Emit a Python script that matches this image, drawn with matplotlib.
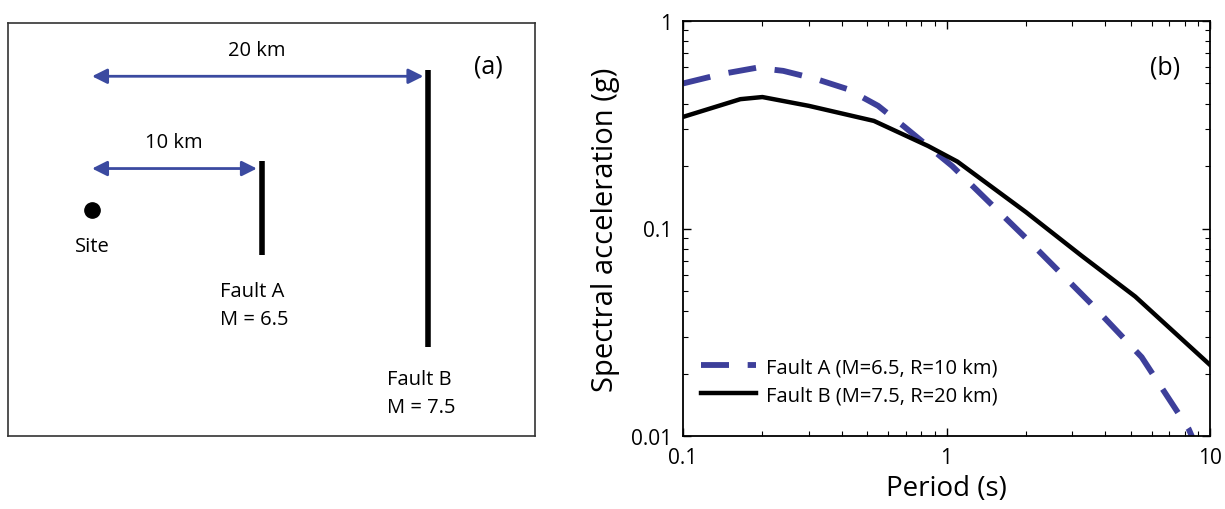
import matplotlib
matplotlib.use("Agg")
import matplotlib.pyplot as plt
from matplotlib.ticker import LogLocator, NullFormatter, FixedLocator, FixedFormatter

plt.rcParams['font.family'] = ['Open Sans', 'DejaVu Sans']

# scenario data (left panel)
distances = [10, 20]          # km, site to fault
magnitudes = [6.5, 7.5]
fault_names = ["Fault A", "Fault B"]

# spectra (right panel)
period_a = [0.1, 0.14, 0.19, 0.24, 0.32, 0.42, 0.55, 0.69, 1.05, 2.0, 3.5, 5.5, 8.3, 9.0]
sa_a = [0.50, 0.555, 0.595, 0.575, 0.525, 0.47, 0.39, 0.31, 0.20, 0.09, 0.044, 0.024, 0.0108, 0.0085]
period_b = [0.1, 0.165, 0.2, 0.3, 0.53, 0.85, 1.1, 2.0, 3.25, 5.2, 10.0]
sa_b = [0.345, 0.42, 0.43, 0.39, 0.33, 0.25, 0.21, 0.12, 0.074, 0.047, 0.022]

blue = '#3d3f9a'
arrow_blue = '#3b4aa0'

fig = plt.figure(figsize=(12.25, 5.10), dpi=100)

# ---- (a) sketch ----
ax1 = fig.add_axes([0.0065, 0.1431, 0.4302, 0.8099])
ax1.set_xlim(-5.05, 26.6)
ax1.set_ylim(-13.6, 11.2)
ax1.set_xticks([])
ax1.set_yticks([])
for s in ax1.spines.values():
    s.set_linewidth(1.2)
    s.set_color('#333333')

arrow_y = [2.46, 8.0]
fault_top = [2.94, 8.35]
fault_bot = [-2.76, -8.23]
label_y = [-4.9, -10.2]

ax1.plot(0, 0, 'o', color='black', markersize=11)
ax1.text(0, -2.2, "Site", ha='center', va='center', fontsize=14.5)

for d, m, name, ay, ft, fb, ly in zip(distances, magnitudes, fault_names,
                                      arrow_y, fault_top, fault_bot, label_y):
    ax1.annotate("", xy=(d - 0.1, ay), xytext=(0, ay),
                 arrowprops=dict(arrowstyle='<|-|>,head_length=0.9,head_width=0.45',
                                 color=arrow_blue, lw=2, shrinkA=0, shrinkB=0))
    ax1.text(d / 2 - 0.1, ay + 1.0, f"{d} km", ha='center', va='bottom', fontsize=14.5)
    ax1.plot([d + 0.2, d + 0.2], [fb, ft], color='black', lw=4, solid_capstyle='butt')
    ax1.text(d - 2.3, ly, name, ha='left', va='center', fontsize=14.5)
    ax1.text(d - 2.3, ly - 1.68, f"M = {m}", ha='left', va='center', fontsize=14.5)

ax1.text(23.8, 8.6, "(a)", ha='center', va='center', fontsize=18)

# ---- (b) spectra ----
ax2 = fig.add_axes([0.5576, 0.1431, 0.4302, 0.8138])
ax2.plot(period_a, sa_a, color=blue, lw=4.2, dashes=(4.8, 3.2),
         label="Fault A (M=6.5, R=10 km)")
ax2.plot(period_b, sa_b, color='black', lw=3.2,
         label="Fault B (M=7.5, R=20 km)")
ax2.set_xscale('log')
ax2.set_yscale('log')
ax2.set_xlim(0.1, 10)
ax2.set_ylim(0.01, 1)

ax2.xaxis.set_major_locator(FixedLocator([0.1, 1, 10]))
ax2.xaxis.set_major_formatter(FixedFormatter(["0.1", "1", "10"]))
ax2.yaxis.set_major_locator(FixedLocator([0.01, 0.1, 1]))
ax2.yaxis.set_major_formatter(FixedFormatter(["0.01", "0.1", "1"]))
ax2.xaxis.set_minor_locator(LogLocator(base=10, subs=range(2, 10)))
ax2.yaxis.set_minor_locator(LogLocator(base=10, subs=range(2, 10)))
ax2.xaxis.set_minor_formatter(NullFormatter())
ax2.yaxis.set_minor_formatter(NullFormatter())
ax2.tick_params(which='both', direction='in', top=True, right=True, labelsize=15, pad=8)
ax2.tick_params(which='major', length=6, width=1)
ax2.tick_params(which='minor', length=3.5, width=0.8)
for s in ax2.spines.values():
    s.set_linewidth(1.3)

ax2.set_xlabel("Period (s)", fontsize=20, labelpad=4)
ax2.set_ylabel("Spectral acceleration (g)", fontsize=21, labelpad=8)
ax2.text(0.915, 0.889, "(b)", transform=ax2.transAxes, ha='center', va='center', fontsize=18)

ax2.legend(loc='lower left', bbox_to_anchor=(0.0, 0.03), frameon=False, fontsize=14.5,
           handlelength=2.7, handletextpad=0.5, labelspacing=0.4)

fig.savefig("out.png", dpi=100)
